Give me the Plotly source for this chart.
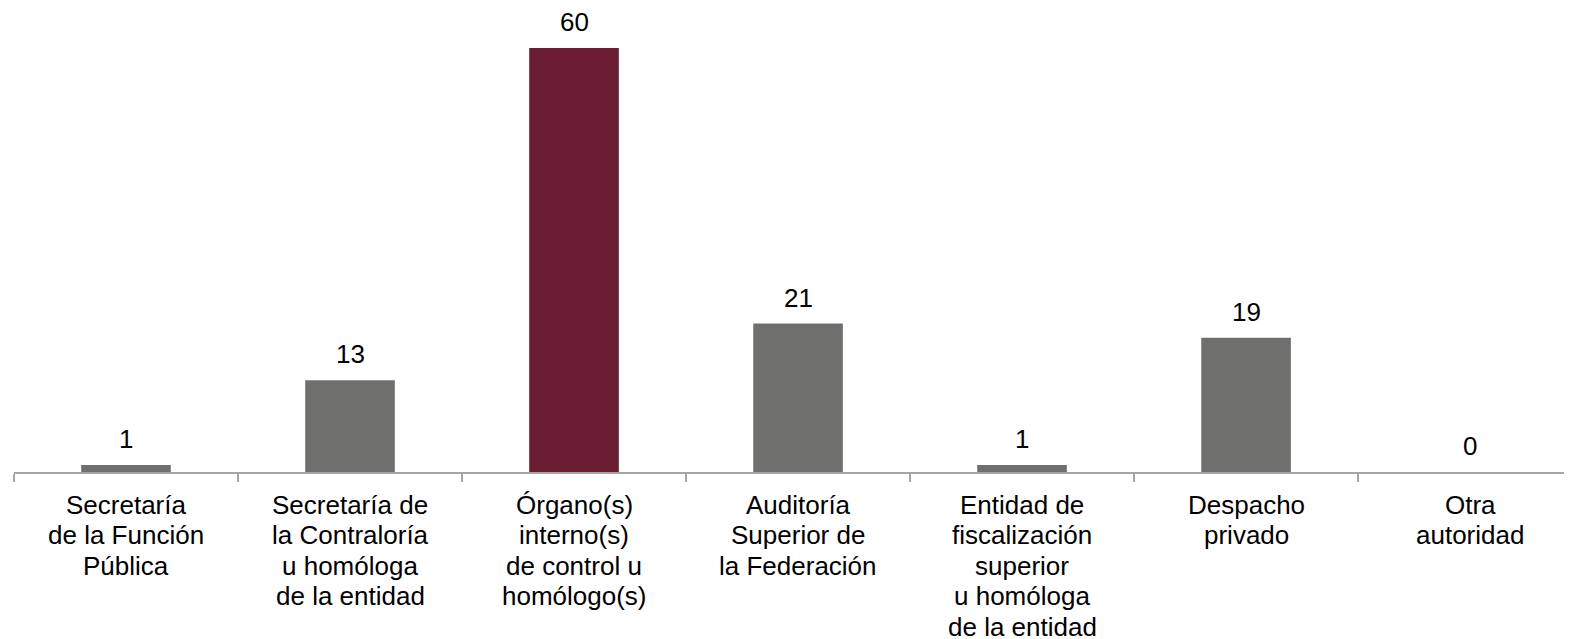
import plotly.graph_objects as go

categories = [
    "Secretaría de la Función Pública",
    "Secretaría de la Contraloría u homóloga de la entidad",
    "Órgano(s) interno(s) de control u homólogo(s)",
    "Auditoría Superior de la Federación",
    "Entidad de fiscalización superior u homóloga de la entidad",
    "Despacho privado",
    "Otra autoridad",
]
# righe delle etichette dell'asse, come nel grafico originale
label_lines = [
    ["Secretaría", "de la Función", "Pública"],
    ["Secretaría de", "la Contraloría", "u homóloga", "de la entidad"],
    ["Órgano(s)", "interno(s)", "de control u", "homólogo(s)"],
    ["Auditoría", "Superior de", "la Federación"],
    ["Entidad de", "fiscalización", "superior", "u homóloga", "de la entidad"],
    ["Despacho", "privado"],
    ["Otra", "autoridad"],
]
values = [1, 13, 60, 21, 1, 19, 0]
highlight = "Órgano(s) interno(s) de control u homólogo(s)"

GRAY = "#6F6F6E"
MAROON = "#6A1D33"
AXIS = "#A6A6A6"
FONT = "Arial, Liberation Sans, sans-serif"

colors = [MAROON if c == highlight else GRAY for c in categories]

fig = go.Figure()
fig.add_trace(go.Bar(
    x=categories, y=values,
    marker=dict(color=colors, line=dict(width=0)),
    width=0.4,
    hoverinfo="skip",
))

# valori sopra le barre
for c, v in zip(categories, values):
    fig.add_annotation(
        x=c, y=v, text=str(v), showarrow=False,
        yanchor="bottom", yshift=9,
        font=dict(family=FONT, size=26, color="#000000"),
    )

# etichette delle categorie, una riga per annotazione (interlinea piu' stretta)
for c, lines in zip(categories, label_lines):
    for i, line in enumerate(lines):
        fig.add_annotation(
            x=c, y=0, text=line, showarrow=False,
            yanchor="middle", yshift=-(33 + i * 30.4),
            font=dict(family=FONT, size=26, color="#000000"),
        )

fig.update_xaxes(
    type="category",
    range=[-0.5, 6.455],
    showline=True, linecolor=AXIS, linewidth=1.5,
    ticks="outside", tickson="boundaries", ticklen=8,
    tickcolor=AXIS, tickwidth=1.5,
    showticklabels=False,
    showgrid=False, zeroline=False,
)
fig.update_yaxes(
    range=[0, 65.66], visible=False, showgrid=False, zeroline=False,
)

fig.update_layout(
    width=1564, height=631,
    margin=dict(l=6, r=0, t=0, b=167),
    plot_bgcolor="white", paper_bgcolor="white",
    showlegend=False,
)

fig.write_html("out.html")
